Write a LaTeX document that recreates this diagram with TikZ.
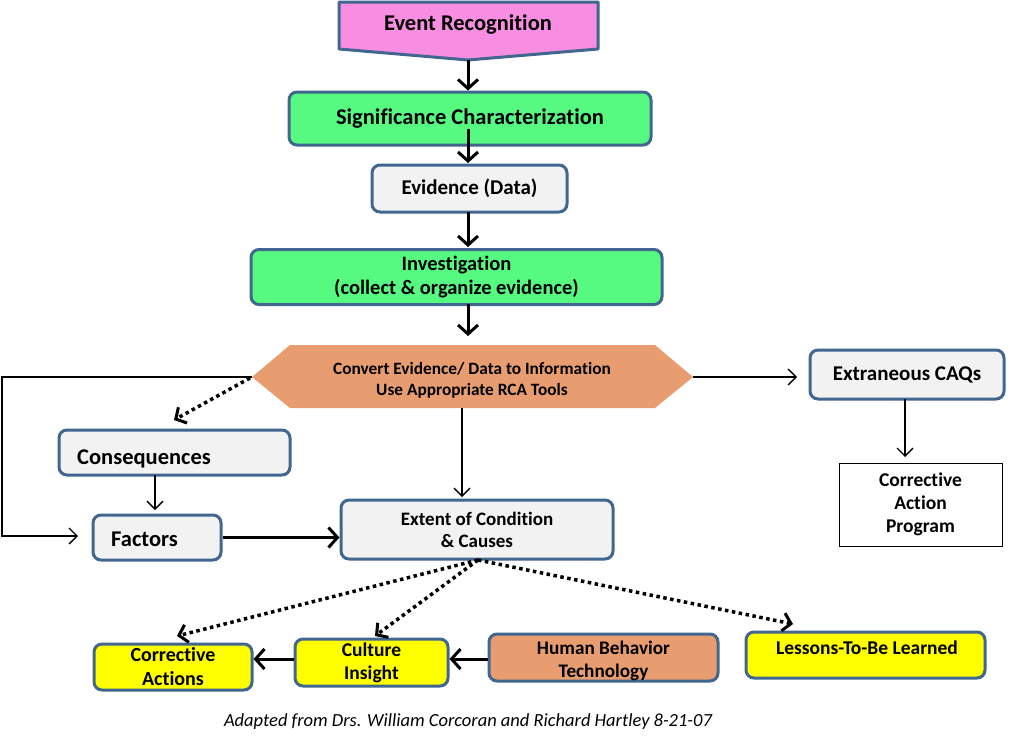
\documentclass[tikz,border=0pt]{standalone}
\usepackage{fontspec}
\setmainfont{Carlito}[Ligatures=NoCommon]
\usetikzlibrary{arrows.meta}
\definecolor{bord}{HTML}{41668F}
\definecolor{pinkf}{HTML}{F88EE2}
\definecolor{greenf}{HTML}{57FA81}
\definecolor{grayf}{HTML}{F2F2F2}
\definecolor{salmon}{HTML}{E89D70}
\definecolor{yel}{HTML}{FFFF00}
\newcommand{\fsz}[2]{\fontsize{#1}{#2}\selectfont\bfseries}
\tikzset{
  box/.style={draw=bord, line width=3pt, rounded corners=8pt, inner sep=0pt, align=center},
  gbox/.style={box, fill=grayf},
  grbox/.style={box, fill=greenf},
  ybox/.style={box, fill=yel},
  sbox/.style={box, fill=salmon},
  bigarrow/.style={line width=3pt, -{Straight Barb[length=9pt,width=20pt,line width=3pt]}},
  thinarrow/.style={line width=1.3pt, -{Straight Barb[length=8pt,width=16pt,line width=1.3pt]}},
  dotarrow/.style={line width=3.5pt, dash pattern=on 3.5pt off 3.5pt, -{Straight Barb[length=8pt,width=18pt,line width=3pt]}},
  txt/.style={inner sep=0pt, align=center}
}
\begin{document}
\begin{tikzpicture}[x=1pt,y=-1pt]
\useasboundingbox (0,0) rectangle (1024,747);
% Event recognition (pentagon)
\draw[draw=bord, line width=3pt, fill=pinkf, line join=round] (339,2) -- (598,2) -- (598,49) -- (468,60) -- (339,49) -- cycle;
\node[txt, font=\fsz{22.5}{27}] (ev) at (468,25) {Event Recognition};
\coordinate (evtip) at (468,60);
% main chain
\node[grbox, minimum width=362pt, minimum height=53pt, font=\fsz{22.5}{27}] (sig) at (470,118.5) {Significance Characterization};
\node[gbox, minimum width=195pt, minimum height=47pt, font=\fsz{21}{25}] (evd) at (469.5,188.5) {Evidence (Data)};
\node[grbox, minimum width=411pt, minimum height=55pt, font=\fsz{20.5}{24}] (inv) at (456.5,277) {Investigation\\(collect \& organize evidence)};
% hexagon
\coordinate (hL) at (252,377);
\coordinate (hR) at (693,377);
\fill[salmon] (hL) -- (290,345) -- (655,345) -- (hR) -- (655,408) -- (290,408) -- cycle;
\node[txt, font=\fsz{17.3}{21}] (hex) at (472,380) {Convert Evidence/ Data to Information\\Use Appropriate RCA Tools};
% right branch
\node[gbox, minimum width=194pt, minimum height=49pt, font=\fsz{21}{25}] (ext) at (907,374.5) {Extraneous CAQs};
\node[draw=black, line width=1pt, fill=white, minimum width=163pt, minimum height=83pt, inner sep=0pt, align=center, font=\fsz{19.5}{23}] (cap) at (920.5,504.5) {Corrective\\Action\\Program};
% left branch
\node[gbox, minimum width=231pt, minimum height=45pt] (cons) at (174.5,452.5) {};
\node[txt, anchor=west, font=\fsz{22.5}{27}] (consT) at (77,459) {Consequences};
\node[gbox, minimum width=128pt, minimum height=45pt] (fac) at (157,537.5) {};
\node[txt, anchor=west, font=\fsz{22.5}{27}] (facT) at (111,539) {Factors};
\node[gbox, minimum width=272pt, minimum height=59pt, font=\fsz{19}{22}] (eoc) at (477,529.5) {Extent of Condition\\\& Causes};
% bottom row
\node[ybox, minimum width=158pt, minimum height=46pt, font=\fsz{20}{24}] (ca) at (173,667) {Corrective\\Actions};
\node[ybox, minimum width=153pt, minimum height=47pt, font=\fsz{19.5}{23}] (ci) at (371.5,662.5) {Culture\\Insight};
\node[sbox, minimum width=229pt, minimum height=47pt] (hbt) at (603.5,657.5) {};
\node[txt, font=\fsz{19.2}{23}] (hbtT) at (603.5,660.5) {Human Behavior\\Technology};
\node[ybox, minimum width=239pt, minimum height=46pt] (les) at (865.5,655) {};
\node[txt, font=\fsz{19.5}{23}] (lesT) at (867,648) {Lessons-To-Be Learned};
% caption
\node[txt, font=\fontsize{18.5}{22}\selectfont\itshape] (capt) at (468,722) {Adapted from Drs. William Corcoran and Richard Hartley 8-21-07};
% connectors
\draw[bigarrow] (evtip) -- (evtip |- sig.north);
\coordinate (sigmid) at (468,129);
\draw[bigarrow] (sigmid) -- (468,163);
\draw[bigarrow] (468,212) -- (468,247);
\draw[bigarrow] (468,304) -- (468,336);
\draw[thinarrow] (hR) -- (797,377);
\draw[thinarrow] (905,399) -- (905,457);
\draw[thinarrow] (hL) -- (2,377) -- (2,536) -- (78,536);
\coordinate (hLd) at (250,378);
\draw[dotarrow] (hLd) -- (174,420);
\draw[thinarrow] (155,475) -- (155,510);
\draw[bigarrow] (fac.east) -- (fac.east -| eoc.west);
\draw[thinarrow] (462,408) -- (462,497);
\coordinate (eocs) at (478,560);
\draw[dotarrow] (eocs) -- (177,636);
\draw[dotarrow] (eocs) -- (375,636);
\draw[dotarrow] (eocs) -- (793,624);
\coordinate (rowy) at (0,659);
\draw[bigarrow] (hbt.west |- rowy) -- (ci.east |- rowy);
\draw[bigarrow] (ci.west |- rowy) -- (ca.east |- rowy);
\end{tikzpicture}
\end{document}
